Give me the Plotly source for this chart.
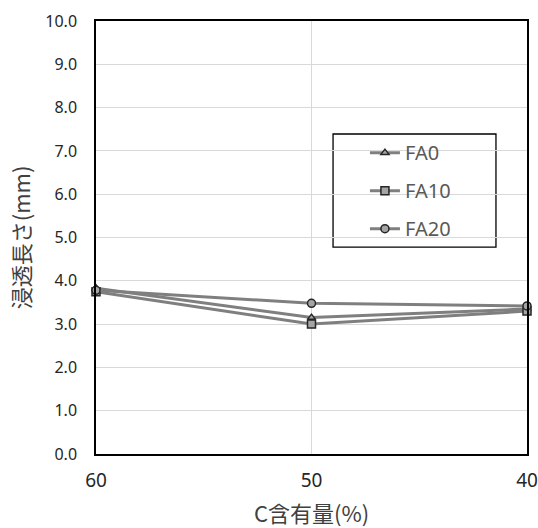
import plotly.graph_objects as go

x_vals = [60, 50, 40]
fa0 = [3.83, 3.15, 3.35]
fa10 = [3.75, 3.0, 3.3]
fa20 = [3.78, 3.48, 3.42]
series_names = ["FA0", "FA10", "FA20"]
y_ticks = [0, 1, 2, 3, 4, 5, 6, 7, 8, 9, 10]
y_tick_labels = [f"{v:.1f}" for v in y_ticks]

fig = go.Figure()
specs = [
    (fa0, "triangle-up", 7),
    (fa10, "square", 8),
    (fa20, "circle", 8),
]
for name, (vals, sym, sz) in zip(series_names, specs):
    fig.add_trace(go.Scatter(
        x=x_vals, y=vals, name=name, mode="lines+markers",
        line=dict(color="#7f7f7f", width=3),
        marker=dict(symbol=sym, size=sz, color="#a5a5a5",
                    line=dict(color="#262626", width=1.5)),
        legendgroup=name, cliponaxis=False,
    ))

# legend frame
fig.add_shape(type="rect", xref="paper", yref="paper",
              x0=0.550, x1=0.928, y0=0.478, y1=0.739,
              line=dict(color="black", width=1.3), fillcolor="white", layer="below")

fig.update_layout(
    width=538, height=528,
    margin=dict(l=96, r=11, t=21, b=74),
    paper_bgcolor="white", plot_bgcolor="white",
    font=dict(family="Noto Sans, Noto Sans CJK JP", color="#404040", size=16),
    showlegend=True,
    legend=dict(
        x=0.624, y=0.741, xanchor="left", yanchor="top",
        borderwidth=0, bgcolor="rgba(0,0,0,0)",
        font=dict(size=20, color="#595959"),
        tracegroupgap=9,
    ),
    xaxis=dict(
        range=[60, 40], tickvals=x_vals, ticktext=[str(v) for v in x_vals],
        tickfont=dict(size=19, color="#262626"),
        showgrid=True, gridcolor="#d9d9d9", gridwidth=1,
        showline=True, linecolor="black", linewidth=1.5, mirror=True,
        zeroline=False, ticks="outside", ticklen=8, tickcolor="white",
        automargin=False,
        title=dict(text="C含有量(%)", font=dict(size=22, color="#404040",
                   family="Noto Sans CJK JP"), standoff=16),
    ),
    yaxis=dict(
        range=[0, 10], tickvals=y_ticks, ticktext=y_tick_labels,
        tickfont=dict(size=16, color="#262626"),
        showgrid=True, gridcolor="#d9d9d9", gridwidth=1,
        showline=True, linecolor="black", linewidth=1.5, mirror=True,
        zeroline=False, ticks="outside", ticklen=14, tickcolor="white",
        automargin=False,
        title=dict(text="浸透長さ(mm)", font=dict(size=22, color="#404040",
                   family="Noto Sans CJK JP"), standoff=9),
    ),
)

fig.write_html("out.html")
